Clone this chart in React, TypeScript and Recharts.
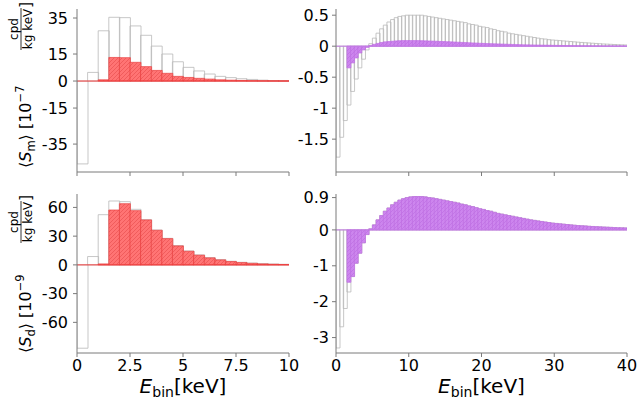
import React from "react";
import { BarChart, Bar, XAxis, YAxis, ReferenceLine } from "recharts";

const FONT = "DejaVu Sans";
const FRAME = "#7a7a7a";

// bin centres (keV)
const lowE = [0.25, 0.75, 1.25, 1.75, 2.25, 2.75, 3.25, 3.75, 4.25, 4.75, 5.25, 5.75, 6.25, 6.75, 7.25, 7.75, 8.25, 8.75, 9.25, 9.75];
const highE = [
  0.25, 0.75, 1.25, 1.75, 2.25, 2.75, 3.25, 3.75, 4.25, 4.75,
  5.25, 5.75, 6.25, 6.75, 7.25, 7.75, 8.25, 8.75, 9.25, 9.75,
  10.25, 10.75, 11.25, 11.75, 12.25, 12.75, 13.25, 13.75, 14.25, 14.75,
  15.25, 15.75, 16.25, 16.75, 17.25, 17.75, 18.25, 18.75, 19.25, 19.75,
  20.25, 20.75, 21.25, 21.75, 22.25, 22.75, 23.25, 23.75, 24.25, 24.75,
  25.25, 25.75, 26.25, 26.75, 27.25, 27.75, 28.25, 28.75, 29.25, 29.75,
  30.25, 30.75, 31.25, 31.75, 32.25, 32.75, 33.25, 33.75, 34.25, 34.75,
  35.25, 35.75, 36.25, 36.75, 37.25, 37.75, 38.25, 38.75, 39.25, 39.75,
];

// <S_m> [1e-7], 0-10 keV
const smGrayLow = [-46, 4.8, 27.9, 35.4, 35.2, 30.6, 25.4, 19.4, 15.0, 10.7, 7.6, 5.6, 3.9, 2.6, 1.9, 1.3, 0.9, 0.5, 0.3, 0.2];
const smRedLow = [0, 0, 0.7, 13.1, 13.0, 10.4, 8.0, 5.9, 4.3, 2.6, 2.0, 1.5, 1.1, 0.7, 0.5, 0.35, 0.2, 0.12, 0.08, 0.05];

// <S_d> [1e-9], 0-10 keV
const sdGrayLow = [-87, 8.7, 52.4, 66.7, 66.0, 58.0, 47.2, 36.4, 27.7, 20.1, 14.5, 10.4, 7.6, 5.5, 3.8, 2.7, 1.9, 1.3, 0.9, 0.6];
const sdRedLow = [0, 0, 1.0, 57.3, 63.9, 56.6, 46.9, 36.1, 27.4, 19.8, 14.2, 10.1, 7.3, 5.2, 3.5, 2.4, 1.6, 1.0, 0.6, 0.4];

// <S_m>, 0-40 keV
const smGrayHigh = [
  -1.79, -1.47, -1.2, -0.95, -0.73, -0.53, -0.35, -0.21, -0.06, 0.04,
  0.13, 0.21, 0.28, 0.34, 0.39, 0.43, 0.46, 0.48, 0.49, 0.5,
  0.5, 0.5, 0.5, 0.5, 0.49, 0.48, 0.47, 0.46, 0.45, 0.44,
  0.43, 0.42, 0.41, 0.4, 0.39, 0.38, 0.36, 0.35, 0.34, 0.32,
  0.31, 0.3, 0.28, 0.27, 0.25, 0.24, 0.23, 0.21, 0.2, 0.19,
  0.18, 0.17, 0.16, 0.15, 0.14, 0.13, 0.12, 0.115, 0.105, 0.1,
  0.095, 0.09, 0.085, 0.08, 0.075, 0.07, 0.065, 0.06, 0.056, 0.052,
  0.048, 0.044, 0.04, 0.036, 0.033, 0.03, 0.027, 0.024, 0.022, 0.02,
];
const smVioletHigh = [
  0, 0, 0, -0.35, -0.27, -0.19, -0.11, -0.06, -0.02, 0.01,
  0.03, 0.045, 0.06, 0.07, 0.075, 0.08, 0.085, 0.088, 0.09, 0.09,
  0.09, 0.09, 0.09, 0.088, 0.086, 0.084, 0.082, 0.08, 0.077, 0.075,
  0.072, 0.07, 0.067, 0.064, 0.061, 0.058, 0.055, 0.052, 0.05, 0.047,
  0.045, 0.042, 0.04, 0.038, 0.036, 0.034, 0.032, 0.03, 0.028, 0.026,
  0.024, 0.022, 0.021, 0.02, 0.019, 0.018, 0.017, 0.016, 0.015, 0.014,
  0.013, 0.012, 0.011, 0.01, 0.009, 0.008, 0.007, 0.006, 0.005, 0.005,
  0.004, 0.004, 0.003, 0.003, 0.002, 0.002, 0.002, 0.001, 0.001, 0.001,
];

// <S_d>, 0-40 keV
const sdGrayHigh = [
  -3.29, -2.7, -2.19, -1.73, -1.3, -0.93, -0.65, -0.36, -0.13, 0.03,
  0.14, 0.28, 0.4, 0.52, 0.61, 0.7, 0.77, 0.83, 0.87, 0.9,
  0.92, 0.93, 0.93, 0.93, 0.92, 0.9, 0.89, 0.87, 0.85, 0.83,
  0.81, 0.79, 0.77, 0.75, 0.72, 0.7, 0.67, 0.65, 0.62, 0.59,
  0.57, 0.54, 0.52, 0.49, 0.46, 0.44, 0.42, 0.4, 0.38, 0.36,
  0.34, 0.32, 0.3, 0.28, 0.265, 0.25, 0.235, 0.22, 0.205, 0.19,
  0.18, 0.17, 0.16, 0.15, 0.14, 0.13, 0.12, 0.115, 0.11, 0.1,
  0.095, 0.09, 0.085, 0.08, 0.075, 0.07, 0.065, 0.06, 0.058, 0.055,
];
const sdVioletHigh = [
  0, 0, 0, -1.46, -1.3, -0.93, -0.65, -0.36, -0.13, 0.03,
  0.14, 0.28, 0.4, 0.52, 0.61, 0.7, 0.77, 0.83, 0.87, 0.9,
  0.92, 0.93, 0.93, 0.93, 0.92, 0.9, 0.89, 0.87, 0.85, 0.83,
  0.81, 0.79, 0.77, 0.75, 0.72, 0.7, 0.67, 0.65, 0.62, 0.59,
  0.57, 0.54, 0.52, 0.49, 0.46, 0.44, 0.42, 0.4, 0.38, 0.36,
  0.34, 0.32, 0.3, 0.28, 0.265, 0.25, 0.235, 0.22, 0.205, 0.19,
  0.18, 0.17, 0.16, 0.15, 0.14, 0.13, 0.12, 0.115, 0.11, 0.1,
  0.095, 0.09, 0.085, 0.08, 0.075, 0.07, 0.065, 0.06, 0.058, 0.055,
];

const lowTicks = [0, 2.5, 5, 7.5, 10];
const highTicks = [0, 10, 20, 30, 40];
const smLowTicks = [35, 15, 0, -15, -35];
const sdLowTicks = [60, 30, 0, -30, -60];
const smHighTicks = [0.5, 0, -0.5, -1, -1.5];
const sdHighTicks = [0.9, 0, -1, -2, -3];

const build = (xs: number[], g: number[], c: number[]) =>
  xs.map((e, i) => ({ e, gray: g[i], col: c[i] }));

// vertical (rotated) y-axis label; in the rotated frame x' = -screenY, y' = screenX
const YLabel = ({ sub, exp, startY, fracY, bracketY }: any) => (
  <g fontFamily={FONT} fill="#000">
    <text transform="rotate(-90)" fontSize={16}>
      <tspan x={-startY} y={31}>⟨</tspan>
      <tspan fontStyle="italic">S</tspan>
      <tspan fontSize={11.5} dy={4}>{sub}</tspan>
      <tspan dy={-4}>⟩ [10</tspan>
      <tspan fontSize={11.5} dy={-7}>{"−" + exp}</tspan>
      <tspan x={-fracY} y={18} fontSize={12} textAnchor="middle">cpd</tspan>
      <tspan x={-fracY} y={32} fontSize={12} textAnchor="middle">kg keV</tspan>
      <tspan x={-bracketY} y={31}>]</tspan>
    </text>
    <line x1={21} x2={21} y1={fracY - 21} y2={fracY + 21} stroke="#000" strokeWidth={0.8} />
  </g>
);

const XLabel = ({ cx, y }: any) => (
  <text x={cx} y={y} textAnchor="middle" fontFamily={FONT} fontSize={20} fill="#000">
    <tspan fontStyle="italic">E</tspan>
    <tspan fontSize={14} dy={4}>bin</tspan>
    <tspan dy={-4}>[keV]</tspan>
  </text>
);

function Panel(props: any) {
  const {
    data, xDomain, xTicks, showX, yDomain, yTicks, fillId, colStroke, zeroColor,
    width, height, yAxisWidth, xAxisHeight, tickMargin,
  } = props;
  return (
    <BarChart
      width={width}
      height={height}
      data={data}
      margin={{ top: 9, right: 11, bottom: 0, left: 0 }}
      barCategoryGap={0}
      barGap={0}
    >
      <XAxis
        xAxisId="a"
        dataKey="e"
        type="number"
        domain={xDomain}
        ticks={xTicks}
        interval={0}
        allowDataOverflow
        height={xAxisHeight}
        tickSize={4}
        tickMargin={3}
        tickLine={{ stroke: FRAME }}
        axisLine={{ stroke: FRAME }}
        tick={{ fontSize: 16, fill: "#000", fontFamily: FONT }}
        tickFormatter={(v: number) => (showX ? String(v) : "")}
      />
      <XAxis xAxisId="b" dataKey="e" type="number" domain={xDomain} allowDataOverflow hide />
      <XAxis
        xAxisId="frame"
        orientation="top"
        type="number"
        domain={[0, 1]}
        height={0}
        tick={false}
        tickLine={false}
        axisLine={{ stroke: FRAME }}
      />
      <YAxis
        type="number"
        domain={yDomain}
        ticks={yTicks}
        interval={0}
        allowDataOverflow
        width={yAxisWidth}
        tickSize={4}
        tickMargin={tickMargin}
        tickLine={{ stroke: FRAME }}
        axisLine={{ stroke: FRAME }}
        tick={{ fontSize: 16, fill: "#000", fontFamily: FONT }}
        tickFormatter={(v: number) => String(v)}
      />
      <YAxis
        yAxisId="frame"
        orientation="right"
        width={0}
        tick={false}
        tickLine={false}
        axisLine={{ stroke: FRAME }}
      />
      <Bar xAxisId="a" dataKey="gray" fill="none" stroke="#b9b9b9" strokeWidth={0.8} isAnimationActive={false} />
      <Bar xAxisId="b" dataKey="col" fill={`url(#${fillId})`} stroke={colStroke} strokeWidth={0.7} isAnimationActive={false} />
      <ReferenceLine xAxisId="a" y={0} stroke={zeroColor} strokeWidth={1} />
    </BarChart>
  );
}

export default function App() {
  const tlData = build(lowE, smGrayLow, smRedLow);
  const blData = build(lowE, sdGrayLow, sdRedLow);
  const trData = build(highE, smGrayHigh, smVioletHigh);
  const brData = build(highE, sdGrayHigh, sdVioletHigh);
  return (
    <div style={{ position: "absolute", left: 0, top: 0, width: 638, height: 400, background: "#fff", fontFamily: FONT }}>
      <svg width={0} height={0} style={{ position: "absolute" }}>
        <defs>
          <pattern id="hatchRed" patternUnits="userSpaceOnUse" width={4} height={4}>
            <rect width={4} height={4} fill="#ff7474" />
            <path d="M-1,1 l2,-2 M0,4 l4,-4 M3,5 l2,-2" stroke="#ea5252" strokeWidth={0.7} />
          </pattern>
          <pattern id="hatchViolet" patternUnits="userSpaceOnUse" width={4} height={4}>
            <rect width={4} height={4} fill="#cd86ee" />
            <path d="M-1,1 l2,-2 M0,4 l4,-4 M3,5 l2,-2" stroke="#bd70e2" strokeWidth={0.7} />
          </pattern>
        </defs>
      </svg>
      <div style={{ position: "absolute", left: 0, top: 0 }}>
        <Panel
          data={tlData} xDomain={[0, 10]} xTicks={lowTicks} showX={false}
          yDomain={[-50.5, 40]} yTicks={smLowTicks} fillId="hatchRed" colStroke="#ea4040" zeroColor="#f03a3a"
          width={300} height={185} yAxisWidth={77} xAxisHeight={13} tickMargin={5}
        />
      </div>
      <div style={{ position: "absolute", left: 290, top: 0 }}>
        <Panel
          data={trData} xDomain={[0, 40]} xTicks={highTicks} showX={false}
          yDomain={[-2.03, 0.6]} yTicks={smHighTicks} fillId="hatchViolet" colStroke="#c070e4" zeroColor="#c47ae6"
          width={348} height={185} yAxisWidth={46} xAxisHeight={13} tickMargin={3}
        />
      </div>
      <div style={{ position: "absolute", left: 0, top: 185 }}>
        <Panel
          data={blData} xDomain={[0, 10]} xTicks={lowTicks} showX={true}
          yDomain={[-92, 74]} yTicks={sdLowTicks} fillId="hatchRed" colStroke="#ea4040" zeroColor="#f03a3a"
          width={300} height={215} yAxisWidth={77} xAxisHeight={47} tickMargin={5}
        />
      </div>
      <div style={{ position: "absolute", left: 290, top: 185 }}>
        <Panel
          data={brData} xDomain={[0, 40]} xTicks={highTicks} showX={true}
          yDomain={[-3.43, 1.0]} yTicks={sdHighTicks} fillId="hatchViolet" colStroke="#c070e4" zeroColor="#c47ae6"
          width={348} height={215} yAxisWidth={46} xAxisHeight={47} tickMargin={3}
        />
      </div>
      <svg width={638} height={400} style={{ position: "absolute", left: 0, top: 0, pointerEvents: "none" }}>
        <YLabel sub="m" exp="7" startY={168} fracY={29} bracketY={8} />
        <YLabel sub="d" exp="9" startY={353} fracY={222} bracketY={201} />
        <XLabel cx={183} y={393} />
        <XLabel cx={481.5} y={393} />
      </svg>
    </div>
  );
}
